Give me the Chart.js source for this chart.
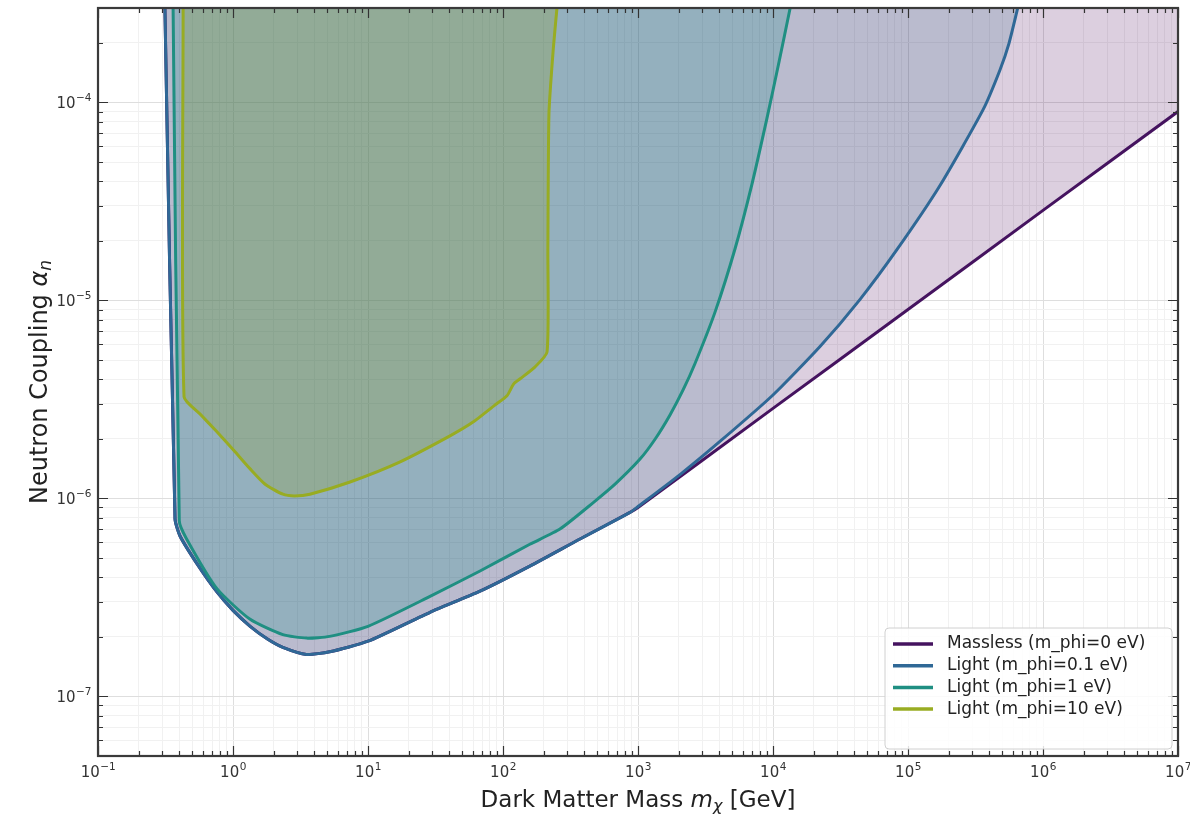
<!DOCTYPE html>
<html>
<head>
<meta charset="utf-8">
<script src="https://cdn.jsdelivr.net/npm/chart.js@4.4.1/dist/chart.umd.min.js"></script>
<style>
  html, body { margin: 0; padding: 0; background: #fff; }
  #wrap { width: 1190px; height: 814px; }
</style>
</head>
<body>
<div id="wrap"><canvas id="grafica" width="1190" height="814"></canvas></div>
<script>
// Límites de exclusión: acoplamiento al neutrón vs masa de materia oscura
const masaMassless = [0.313, 0.372, 0.405, 0.55, 0.76, 1.0, 1.34, 1.8, 2.34, 3.5, 5.2, 10, 28.8, 67.6, 158, 372, 873, 1000, 1e4, 1e5, 1e6, 1e7];
const alphaMassless = [3e-4, 7.87e-7, 6.46e-7, 4.6e-7, 3.37e-7, 2.72e-7, 2.26e-7, 1.95e-7, 1.77e-7, 1.63e-7, 1.68e-7, 1.9e-7, 2.66e-7, 3.4e-7, 4.55e-7, 6.24e-7, 8.5e-7, 9.0e-7, 2.85e-6, 9.0e-6, 2.85e-5, 9.0e-5];

const masaLight01 = [0.313, 0.372, 0.405, 0.55, 0.76, 1.0, 1.34, 1.8, 2.34, 3.5, 5.2, 10, 28.8, 67.6, 158, 372, 873, 1000, 2047, 4046, 1e4, 2.23e4, 4.4e4, 8.3e4, 1.73e5, 3.6e5, 4.8e5, 5.6e5, 6.5e5];
const alphaLight01 = [3e-4, 7.87e-7, 6.46e-7, 4.6e-7, 3.37e-7, 2.72e-7, 2.26e-7, 1.95e-7, 1.77e-7, 1.63e-7, 1.68e-7, 1.9e-7, 2.66e-7, 3.4e-7, 4.55e-7, 6.24e-7, 8.5e-7, 9.1e-7, 1.32e-6, 1.94e-6, 3.33e-6, 5.85e-6, 1.01e-5, 1.81e-5, 3.82e-5, 9.2e-5, 1.46e-4, 1.99e-4, 3e-4];

const masaLight1 = [0.36, 0.40, 0.45, 0.76, 1.34, 2.34, 3.5, 5.2, 10, 28.8, 67.6, 158, 264, 464, 676, 1035, 1337, 1726, 2153, 2640, 3720, 5240, 6980, 9000, 1.11e4, 1.34e4];
const alphaLight1 = [3e-4, 7.7e-7, 6.3e-7, 3.5e-7, 2.45e-7, 2.05e-7, 1.97e-7, 2.01e-7, 2.26e-7, 3.2e-7, 4.3e-7, 5.87e-7, 7.0e-7, 9.5e-7, 1.18e-6, 1.58e-6, 1.99e-6, 2.64e-6, 3.52e-6, 4.79e-6, 8.73e-6, 1.83e-5, 3.86e-5, 8.26e-5, 1.61e-4, 3e-4];

const masaLight10 = [0.427, 0.434, 0.57, 0.76, 1.02, 1.34, 1.73, 2.34, 2.86, 3.71, 7.36, 17.3, 40.5, 60, 87, 107, 120, 134, 173, 212, 215, 219, 236, 251];
const alphaLight10 = [3e-4, 3.26e-6, 2.67e-6, 2.17e-6, 1.74e-6, 1.41e-6, 1.18e-6, 1.05e-6, 1.03e-6, 1.05e-6, 1.21e-6, 1.53e-6, 2.07e-6, 2.43e-6, 2.96e-6, 3.3e-6, 3.79e-6, 4.02e-6, 4.62e-6, 5.5e-6, 1.83e-5, 8.8e-5, 1.88e-4, 3e-4];

const etiquetas = ['Massless (m_phi=0 eV)', 'Light (m_phi=0.1 eV)', 'Light (m_phi=1 eV)', 'Light (m_phi=10 eV)'];
const coloresLinea = ['#45135f', '#2f6896', '#1f8f82', '#98ac22'];
const coloresRelleno = ['rgba(68, 1, 84, 0.19)', 'rgba(49, 104, 142, 0.2)', 'rgba(33, 145, 140, 0.25)', 'rgba(140, 158, 40, 0.26)'];

// Ejes: etiquetas 10^n (base y exponente)
const xMayores = [1e-1, 1, 1e1, 1e2, 1e3, 1e4, 1e5, 1e6, 1e7];
const xExponentes = ['−1', '0', '1', '2', '3', '4', '5', '6', '7'];
const yMayores = [1e-7, 1e-6, 1e-5, 1e-4];
const yExponentes = ['−7', '−6', '−5', '−4'];
const X_MIN = 1e-1, X_MAX = 1e7, Y_MIN = 5e-8, Y_MAX = 3e-4;

const FUENTE = "'DejaVu Sans', sans-serif";

function puntos(xs, ys) {
  return xs.map((x, i) => ({ x: x, y: ys[i] }));
}

function esMayor(v) {
  const l = Math.log10(v);
  return Math.abs(l - Math.round(l)) < 1e-9;
}

// marcas 1..9 x 10^n dentro del rango
function marcasLog(min, max) {
  const res = [];
  for (let e = Math.floor(Math.log10(min)); e <= Math.ceil(Math.log10(max)); e++) {
    for (let m = 1; m <= 9; m++) {
      const v = m * Math.pow(10, e);
      if (v >= min * 0.9999 && v <= max * 1.0001) res.push(v);
    }
  }
  return res;
}

// Marcas hacia dentro en los cuatro lados, marco y etiquetas 10^n
const marcasInternas = {
  id: 'marcasInternas',
  afterDatasetsDraw(chart) {
    const { ctx, chartArea: a, scales } = chart;
    ctx.save();
    ctx.strokeStyle = '#333';
    ctx.lineWidth = 1.2;
    marcasLog(X_MIN, X_MAX).forEach(v => {
      const px = Math.round(scales.x.getPixelForValue(v)) + 0.5;
      const len = esMayor(v) ? 10 : 5;
      ctx.beginPath();
      ctx.moveTo(px, a.bottom); ctx.lineTo(px, a.bottom - len);
      ctx.moveTo(px, a.top); ctx.lineTo(px, a.top + len);
      ctx.stroke();
    });
    marcasLog(Y_MIN, Y_MAX).forEach(v => {
      const py = Math.round(scales.y.getPixelForValue(v)) + 0.5;
      const len = esMayor(v) ? 10 : 5;
      ctx.beginPath();
      ctx.moveTo(a.left, py); ctx.lineTo(a.left + len, py);
      ctx.moveTo(a.right, py); ctx.lineTo(a.right - len, py);
      ctx.stroke();
    });
    ctx.strokeStyle = '#3a3a3a';
    ctx.lineWidth = 2.2;
    ctx.strokeRect(a.left, a.top, a.right - a.left, a.bottom - a.top);

    const base = `15px ${FUENTE}`, sup = `10.5px ${FUENTE}`;
    ctx.fillStyle = '#333';
    ctx.textBaseline = 'alphabetic';
    ctx.textAlign = 'left';
    xMayores.forEach((v, i) => {
      ctx.font = base; const w1 = ctx.measureText('10').width;
      ctx.font = sup; const w2 = ctx.measureText(xExponentes[i]).width;
      const x0 = scales.x.getPixelForValue(v) - (w1 + w2) / 2;
      ctx.font = base; ctx.fillText('10', x0, a.bottom + 21);
      ctx.font = sup; ctx.fillText(xExponentes[i], x0 + w1 + 0.5, a.bottom + 14);
    });
    yMayores.forEach((v, i) => {
      ctx.font = base; const w1 = ctx.measureText('10').width;
      ctx.font = sup; const w2 = ctx.measureText(yExponentes[i]).width;
      const py = scales.y.getPixelForValue(v);
      const x0 = a.left - 7 - w1 - w2;
      ctx.font = base; ctx.fillText('10', x0, py + 6);
      ctx.font = sup; ctx.fillText(yExponentes[i], x0 + w1 + 0.5, py - 1);
    });
    ctx.restore();
  }
};

// Títulos de los ejes con cursiva y subíndice
function textoPartes(ctx, partes) {
  let ancho = 0;
  partes.forEach(p => { ctx.font = p.font; p.w = ctx.measureText(p.t).width; ancho += p.w; });
  return ancho;
}

function dibujarPartes(ctx, partes, x0, y0) {
  let x = x0;
  partes.forEach(p => {
    ctx.font = p.font;
    ctx.fillText(p.t, x, y0 + (p.dy || 0));
    x += p.w;
  });
}

const titulosEjes = {
  id: 'titulosEjes',
  afterDraw(chart) {
    const { ctx, chartArea: a } = chart;
    ctx.save();
    ctx.fillStyle = '#222';
    ctx.textBaseline = 'alphabetic';
    ctx.textAlign = 'left';

    const px = [
      { t: 'Dark Matter Mass ', font: `23px ${FUENTE}` },
      { t: 'm', font: `italic 23px ${FUENTE}` },
      { t: 'χ', font: `italic 16px ${FUENTE}`, dy: 4 },
      { t: ' [GeV]', font: `23px ${FUENTE}` }
    ];
    const wx = textoPartes(ctx, px);
    dibujarPartes(ctx, px, (a.left + a.right) / 2 - wx / 2, 807);

    const py = [
      { t: 'Neutron Coupling ', font: `24px ${FUENTE}` },
      { t: 'α', font: `italic 24px ${FUENTE}` },
      { t: 'n', font: `italic 17px ${FUENTE}`, dy: 4 }
    ];
    const wy = textoPartes(ctx, py);
    ctx.translate(47, (a.top + a.bottom) / 2);
    ctx.rotate(-Math.PI / 2);
    dibujarPartes(ctx, py, -wy / 2, 0);
    ctx.restore();
  }
};

// Leyenda dentro del área, abajo a la derecha
const leyenda = {
  id: 'leyendaInterna',
  afterDraw(chart) {
    const { ctx } = chart;
    const x0 = 885, y0 = 628, w = 287, h = 121;
    ctx.save();
    ctx.beginPath();
    ctx.roundRect(x0, y0, w, h, 4);
    ctx.fillStyle = 'rgba(255, 255, 255, 0.85)';
    ctx.fill();
    ctx.strokeStyle = '#d0d0d0';
    ctx.lineWidth = 1;
    ctx.stroke();
    ctx.font = `17px ${FUENTE}`;
    ctx.textBaseline = 'middle';
    ctx.fillStyle = '#222';
    etiquetas.forEach((txt, i) => {
      const y = y0 + 16 + i * 21.7;
      ctx.strokeStyle = coloresLinea[i];
      ctx.lineWidth = 3.5;
      ctx.beginPath();
      ctx.moveTo(893, y); ctx.lineTo(933, y);
      ctx.stroke();
      ctx.fillText(txt, 947, y);
    });
    ctx.restore();
  }
};

const series = [
  [masaMassless, alphaMassless],
  [masaLight01, alphaLight01],
  [masaLight1, alphaLight1],
  [masaLight10, alphaLight10]
];

const datasets = series.map((s, i) => ({
  label: etiquetas[i],
  data: puntos(s[0], s[1]),
  borderColor: coloresLinea[i],
  backgroundColor: coloresRelleno[i],
  borderWidth: 3,
  pointRadius: 0,
  tension: 0.2,
  fill: 'end',
  order: 4 - i
}));

const rejilla = {
  drawTicks: false,
  color: (c) => (c.tick && c.tick.mayor) ? '#dedede' : '#f1f1f1',
  lineWidth: 1
};

const ctx = document.getElementById('grafica').getContext('2d');
new Chart(ctx, {
  type: 'line',
  data: { datasets: datasets },
  options: {
    responsive: false,
    animation: false,
    layout: { padding: { left: 0, right: 12, top: 8, bottom: 0 } },
    plugins: {
      legend: { display: false },
      tooltip: { enabled: false },
      filler: { drawTime: 'beforeDatasetsDraw' }
    },
    scales: {
      x: {
        type: 'logarithmic',
        min: X_MIN,
        max: X_MAX,
        afterBuildTicks: (s) => {
          s.ticks = marcasLog(X_MIN, X_MAX).map(v => ({ value: v, mayor: esMayor(v) }));
        },
        afterFit: (s) => { s.height = 58; s.paddingLeft = 0; s.paddingRight = 0; },
        ticks: { display: false, autoSkip: false },
        grid: rejilla,
        border: { display: false }
      },
      y: {
        type: 'logarithmic',
        min: Y_MIN,
        max: Y_MAX,
        afterBuildTicks: (s) => {
          s.ticks = marcasLog(Y_MIN, Y_MAX).map(v => ({ value: v, mayor: esMayor(v) }));
        },
        afterFit: (s) => { s.width = 98; s.paddingTop = 0; s.paddingBottom = 0; },
        ticks: { display: false, autoSkip: false },
        grid: rejilla,
        border: { display: false }
      }
    }
  },
  plugins: [marcasInternas, titulosEjes, leyenda]
});
</script>
</body>
</html>
